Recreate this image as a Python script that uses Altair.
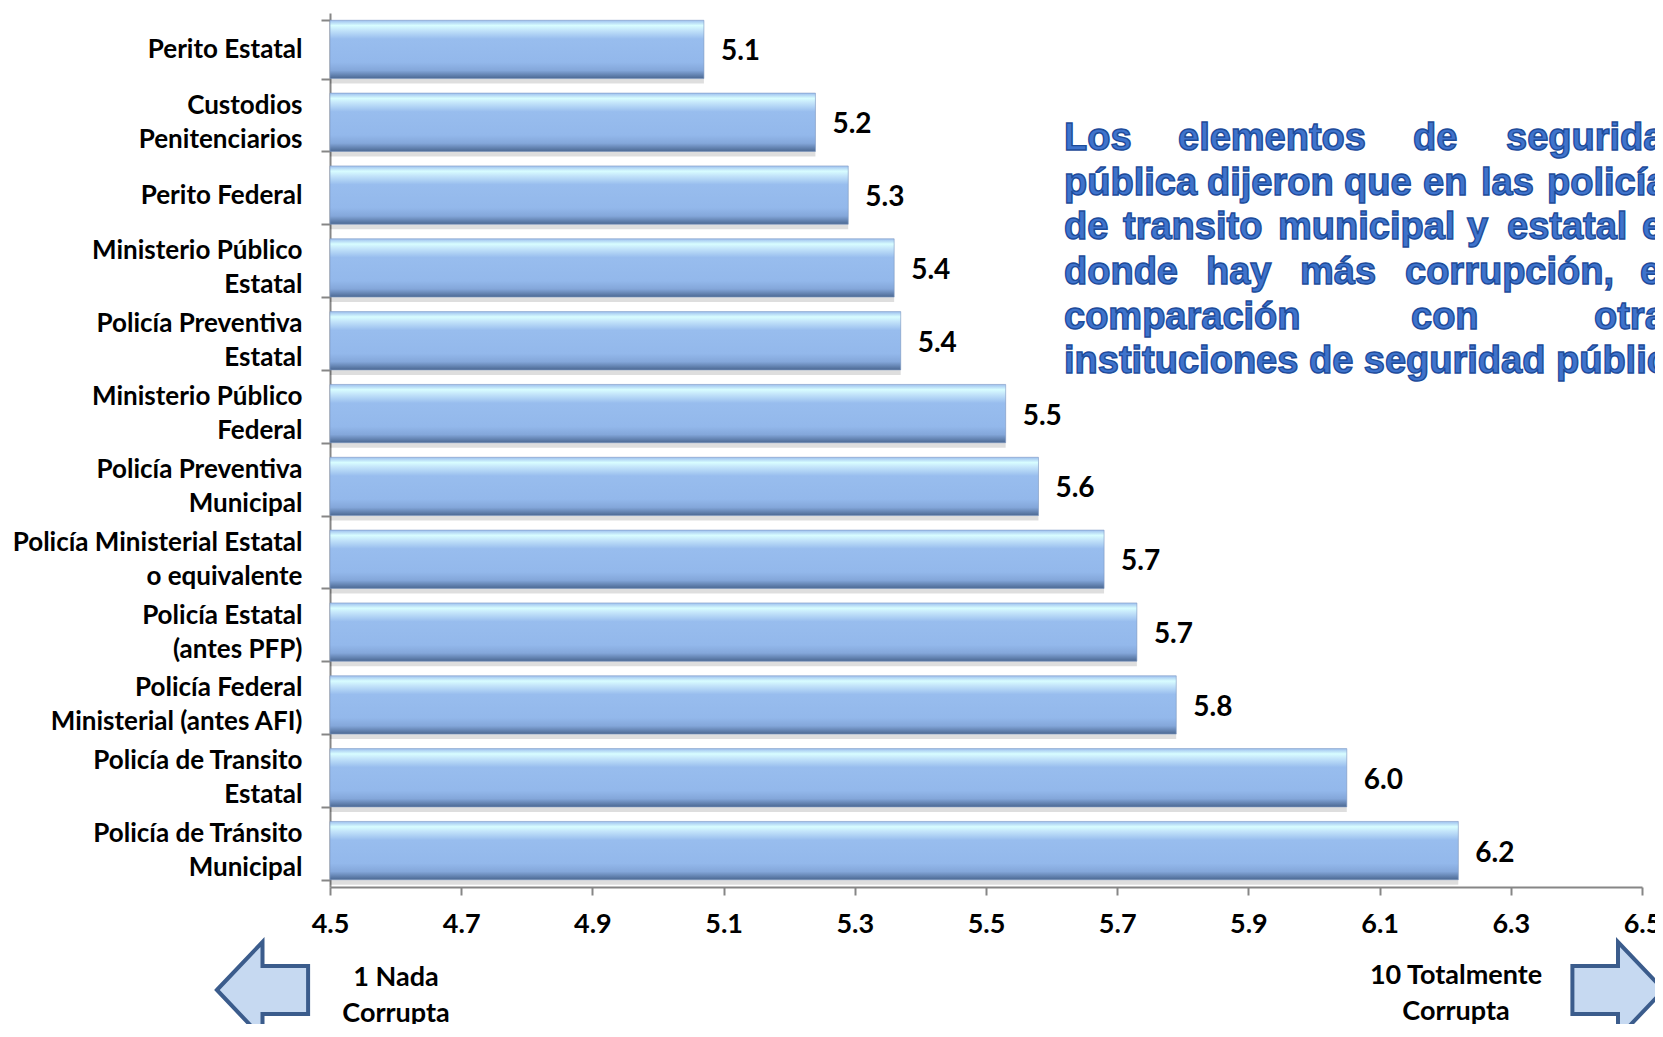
import altair as alt
import pandas as pd

# ---------------- data ----------------
categories = [
    "Perito Estatal",
    "Custodios\nPenitenciarios",
    "Perito Federal",
    "Ministerio Público\nEstatal",
    "Policía Preventiva\nEstatal",
    "Ministerio Público\nFederal",
    "Policía Preventiva\nMunicipal",
    "Policía Ministerial Estatal\no equivalente",
    "Policía Estatal\n(antes PFP)",
    "Policía Federal\nMinisterial (antes AFI)",
    "Policía de Transito\nEstatal",
    "Policía de Tránsito\nMunicipal",
]
values = [5.07, 5.24, 5.29, 5.36, 5.37, 5.53, 5.58, 5.68, 5.73, 5.79, 6.05, 6.22]
x_ticks = [4.5, 4.7, 4.9, 5.1, 5.3, 5.5, 5.7, 5.9, 6.1, 6.3, 6.5]
x_domain = [4.5, 6.5]

left_note = ["1 Nada", "Corrupta"]
right_note = ["10 Totalmente", "Corrupta"]

# annotation paragraph (justified in the original), one list of words per line
para_lines = [
    ["Los", "elementos", "de", "seguridad"],
    ["pública", "dijeron", "que", "en", "las", "policías"],
    ["de", "transito", "municipal", "y", "estatal", "es"],
    ["donde", "hay", "más", "corrupción,", "en"],
    ["comparación", "con", "otras"],
    ["instituciones de seguridad pública."],
]
# word start offsets (px, relative to plot left) and line baselines
para_x = [
    [734, 848, 1083, 1176],
    [734, 877, 1014, 1093, 1151, 1217],
    [734, 793, 948, 1137, 1177, 1312],
    [734, 876, 970, 1075, 1310],
    [734, 1081, 1264],
    [734],
]
para_y = [137, 181.6, 226, 271, 315.6, 360]

df = pd.DataFrame({"cat": categories, "val": values})

LABEL_FONT = "Lato"
AXIS_GREY = "#868686"

y_enc = alt.Y(
    "cat:N",
    sort=categories,
    scale=alt.Scale(paddingInner=0.2, paddingOuter=0.1),
    axis=alt.Axis(
        title=None,
        labelExpr="split(datum.label, '\\n')",
        labelFont=LABEL_FONT,
        labelFontWeight="bold",
        labelFontSize=26,
        labelColor="black",
        labelLineHeight=34,
        labelPadding=19,
        labelLimit=400,
        labelBaseline="middle",
        labelOffset={
            "condition": {"test": "indexof(datum.label, '\\n') >= 0", "value": -17},
            "value": 0,
        },
        tickSize=9,
        tickBand="extent",
        tickColor=AXIS_GREY,
        tickWidth=2,
        domainColor=AXIS_GREY,
        domainWidth=2,
    ),
)
x_enc = alt.X(
    "val:Q",
    scale=alt.Scale(domain=x_domain, nice=False, zero=False),
    axis=alt.Axis(
        title=None,
        values=x_ticks,
        format=".1f",
        grid=False,
        labelFont=LABEL_FONT,
        labelFontWeight="bold",
        labelFontSize=27,
        labelColor="black",
        labelPadding=16,
        labelFlush=False,
        labelOverlap=False,
        tickSize=8,
        tickColor=AXIS_GREY,
        tickWidth=2,
        domainColor=AXIS_GREY,
        domainWidth=2,
    ),
)

bar_fill = alt.Gradient(
    gradient="linear",
    stops=[
        alt.GradientStop(color="#9dbfee", offset=0.0),
        alt.GradientStop(color="#d8fdff", offset=0.09),
        alt.GradientStop(color="#c3e4fa", offset=0.17),
        alt.GradientStop(color="#98bdee", offset=0.32),
        alt.GradientStop(color="#93b8eb", offset=0.72),
        alt.GradientStop(color="#84a7da", offset=0.86),
        alt.GradientStop(color="#4b6892", offset=1.0),
    ],
    x1=0, x2=0, y1=0, y2=1,
)

base = alt.Chart(df)

shadow = base.mark_bar(color="#000000", opacity=0.13, yOffset=5).encode(
    y=y_enc, x=x_enc, x2=alt.datum(4.5)
)
bars = base.mark_bar(color=bar_fill, stroke="#7d99c2", strokeWidth=0.6).encode(
    y=y_enc, x=x_enc, x2=alt.datum(4.5)
)
labels = base.mark_text(
    align="left", baseline="middle", dx=17, dy=3, font=LABEL_FONT, fontWeight="bold",
    fontSize=28, color="black"
).encode(y=y_enc, x=x_enc, text=alt.Text("val:Q", format=".1f"))


def one_row():
    return alt.Chart(alt.Data(values=[{"k": 0}]))


layers = [shadow, bars, labels]

# paragraph words
for words, xs, yb in zip(para_lines, para_x, para_y):
    for w, xw in zip(words, xs):
        layers.append(
            one_row().mark_text(
                align="left", baseline="alphabetic", font="Liberation Sans",
                fontWeight="bold", fontSize=38, fill="#3f73cc", stroke="#1d4b9a",
                strokeWidth=1.4,
            ).encode(x=alt.value(xw), y=alt.value(yb), text=alt.value(w))
        )

# bottom notes (first line centre given; second line follows)
layers.append(
    one_row().mark_text(
        align="center", baseline="middle", font=LABEL_FONT, fontWeight="bold",
        fontSize=27, color="black", lineHeight=36,
    ).encode(x=alt.value(66), y=alt.value(965), text=alt.value(left_note))
)
layers.append(
    one_row().mark_text(
        align="center", baseline="middle", font=LABEL_FONT, fontWeight="bold",
        fontSize=27, color="black", lineHeight=36,
    ).encode(x=alt.value(1126), y=alt.value(963), text=alt.value(right_note))
)

# arrows
left_arrow = "M -0.95 0 L 0 -1 L 0 -0.5 L 0.95 -0.5 L 0.95 0.5 L 0 0.5 L 0 1 Z"
right_arrow = "M 0.95 0 L 0 -1 L 0 -0.5 L -0.95 -0.5 L -0.95 0.5 L 0 0.5 L 0 1 Z"
for shp, xa in [(left_arrow, -67.5), (right_arrow, 1288)]:
    layers.append(
        one_row().mark_point(
            shape=shp, size=9216, filled=True, fill="#c6d9f1", stroke="#3b5c8c",
            strokeWidth=4, opacity=1, fillOpacity=1, strokeOpacity=1,
        ).encode(x=alt.value(xa), y=alt.value(977))
    )

chart = alt.layer(*layers).properties(
    width=1312,
    height=874,
    padding={"left": 322, "top": 5, "right": 13, "bottom": 137},
    autosize=alt.AutoSizeParams(type="none"),
    background="white",
).configure_view(stroke=None)

chart.save("out.html", embed_options={"renderer": "svg", "actions": False})
